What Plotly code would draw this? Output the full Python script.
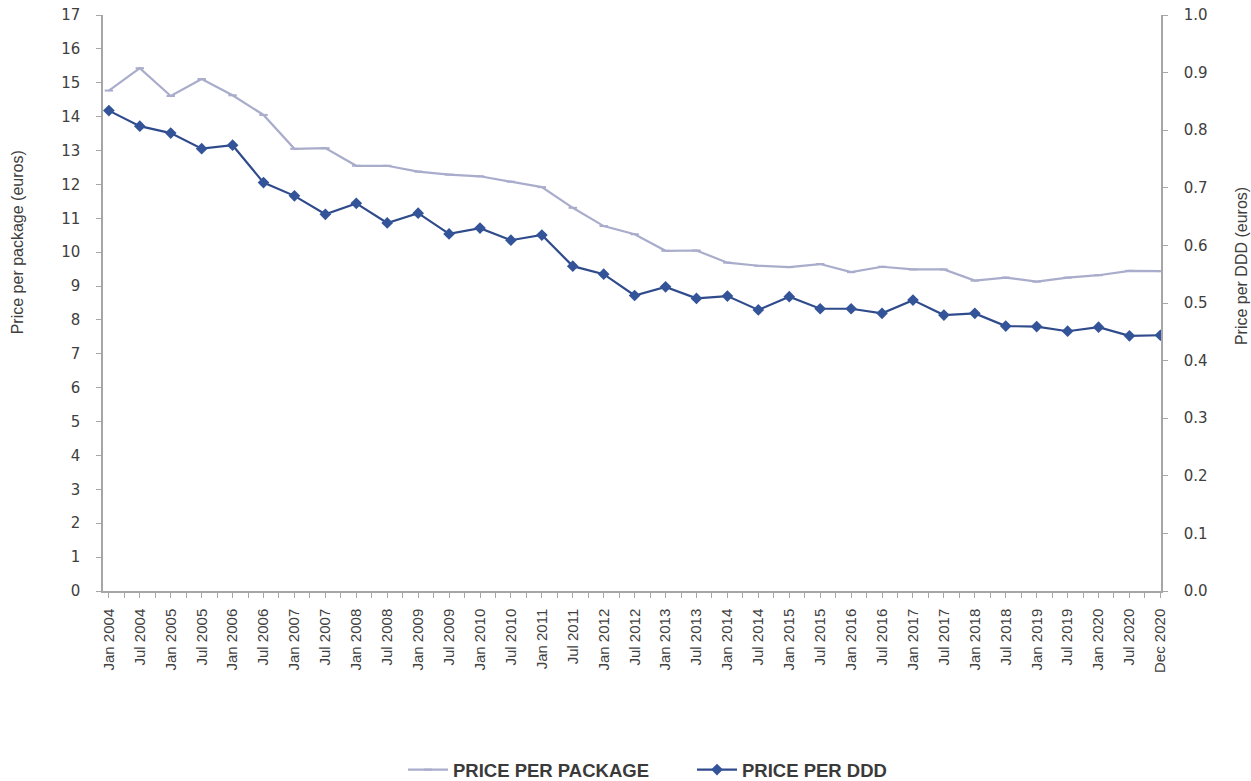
import plotly.graph_objects as go

categories = []
for yr in range(2004, 2021):
    categories.append(f"Jan {yr}")
    categories.append(f"Jul {yr}")
categories.append("Dec 2020")

price_per_package = [14.77, 15.43, 14.61, 15.11, 14.63, 14.05, 13.05, 13.07, 12.55, 12.55,
                     12.38, 12.29, 12.24, 12.08, 11.92, 11.31, 10.77, 10.53, 10.04, 10.05,
                     9.69, 9.60, 9.56, 9.65, 9.41, 9.57, 9.49, 9.49, 9.16, 9.25,
                     9.13, 9.25, 9.32, 9.45, 9.44]

price_per_ddd = [0.834, 0.807, 0.795, 0.768, 0.774, 0.709, 0.686, 0.654, 0.673, 0.639,
                 0.656, 0.620, 0.630, 0.609, 0.618, 0.564, 0.550, 0.513, 0.528, 0.508,
                 0.512, 0.488, 0.511, 0.490, 0.490, 0.482, 0.505, 0.479, 0.482, 0.460,
                 0.459, 0.451, 0.458, 0.443, 0.444]

left_ticks = list(range(0, 18))
right_ticks = [round(i * 0.1, 1) for i in range(0, 11)]

idx = list(range(len(categories)))

TXT = "#404040"
AX = "#A6A6A6"

fig = go.Figure()
fig.add_trace(go.Scatter(
    x=idx, y=price_per_package, name="PRICE PER PACKAGE", mode="lines+markers",
    line=dict(color="#A9ACCB", width=2.2),
    marker=dict(symbol="line-ew", size=6, line=dict(color="#A9ACCB", width=2)),
    yaxis="y"))
fig.add_trace(go.Scatter(
    x=idx, y=price_per_ddd, name="PRICE PER DDD", mode="lines+markers",
    line=dict(color="#2F4B8C", width=2.2),
    marker=dict(symbol="diamond", size=9, color="#34549A"),
    yaxis="y2"))

fig.update_layout(
    width=1251, height=781,
    margin=dict(l=103, r=90, t=15, b=190, autoexpand=False),
    paper_bgcolor="white", plot_bgcolor="white",
    showlegend=True,
    legend=dict(orientation="h", x=403 / 1251, xanchor="left", xref="container",
                y=0.014, yanchor="middle", yref="container",
                font=dict(family="Liberation Sans", size=18.5, color="#3a3a3a", weight="bold"),
                tracegroupgap=0, itemwidth=40, entrywidth=234, entrywidthmode="pixels"),
    xaxis=dict(range=[-0.19, 34.02], tickmode="array", tickvals=idx, ticktext=categories,
               tickangle=-90, showgrid=False, zeroline=False, showline=True, automargin=False,
               linecolor=AX, linewidth=1.5, ticks="outside", ticklen=5, tickcolor=AX,
               ticklabelstandoff=5,
               tickfont=dict(family="Liberation Sans", size=15, color=TXT)),
    yaxis=dict(range=[0, 17], tickmode="array", tickvals=left_ticks, automargin=False,
               showgrid=False, zeroline=False, showline=True, linecolor=AX, linewidth=1.5,
               ticks="outside", ticklen=5, tickcolor=AX, ticklabelstandoff=13,
               tickfont=dict(family="DejaVu Sans", size=15, color=TXT)),
    yaxis2=dict(range=[0, 1], tickmode="array", tickvals=right_ticks, tickformat=".1f",
                overlaying="y", side="right", anchor="x", automargin=False,
                showgrid=False, zeroline=False, showline=True, linecolor=AX, linewidth=1.5,
                ticks="outside", ticklen=5, tickcolor=AX, ticklabelstandoff=13,
                tickfont=dict(family="DejaVu Sans", size=15, color=TXT)),
    annotations=[
        dict(text="Price per package (euros)", textangle=-90, xref="paper", yref="paper",
             x=-0.080, y=0.606, showarrow=False, xanchor="center", yanchor="middle",
             font=dict(family="Liberation Sans", size=16, color=TXT)),
        dict(text="Price per DDD (euros)", textangle=-90, xref="paper", yref="paper",
             x=1.0756, y=0.564, showarrow=False, xanchor="center", yanchor="middle",
             font=dict(family="Liberation Sans", size=16, color=TXT)),
    ],
)

fig.update_xaxes(minor=dict(ticks="outside", ticklen=5, tickcolor=AX, dtick=0.5, tick0=0.5))

fig.write_html("out.html")
